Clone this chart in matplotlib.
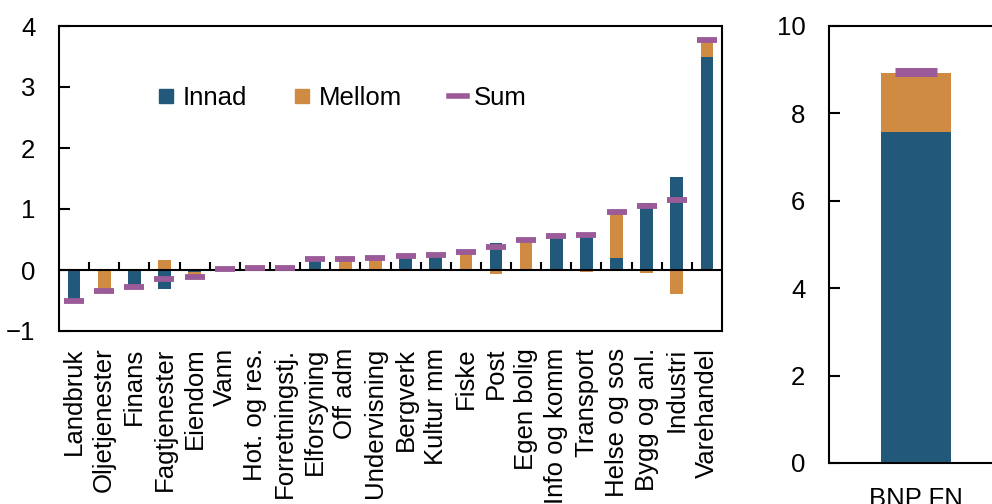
import numpy as np
import matplotlib
matplotlib.use("Agg")
import matplotlib.pyplot as plt
from matplotlib.lines import Line2D

plt.rcParams["font.family"] = ["Liberation Sans", "DejaVu Sans"]
plt.rcParams["font.size"] = 18.5

# data
categories = ["Landbruk", "Oljetjenester", "Finans", "Fagtjenester", "Eiendom",
              "Vann", "Hot. og res.", "Forretningstj.", "Elforsyning", "Off adm",
              "Undervisning", "Bergverk", "Kultur mm", "Fiske", "Post",
              "Egen bolig", "Info og komm", "Transport", "Helse og sos",
              "Bygg og anl.", "Industri", "Varehandel"]
innad = [-0.48, -0.01, -0.24, -0.31, -0.04, 0.00, 0.02, -0.02, 0.16, 0.01, 0.02,
         0.24, 0.23, 0.02, 0.44, 0.01, 0.54, 0.61, 0.19, 1.10, 1.53, 3.49]
mellom = [-0.03, -0.33, -0.04, 0.17, -0.08, 0.01, 0.01, 0.06, 0.02, 0.17, 0.18,
          -0.01, 0.01, 0.27, -0.07, 0.48, 0.01, -0.04, 0.76, -0.05, -0.39, 0.24]
total = [-0.51, -0.34, -0.28, -0.14, -0.12, 0.01, 0.03, 0.04, 0.18, 0.18, 0.20,
         0.23, 0.24, 0.30, 0.37, 0.49, 0.55, 0.57, 0.95, 1.05, 1.14, 3.77]

bnp_label = ["BNP FN"]
bnp_innad = [7.57]
bnp_mellom = [1.36]
bnp_total = [8.94]

c_innad = "#22597A"
c_mellom = "#CF8B41"
c_sum = "#9A5B98"

fig = plt.figure(figsize=(9.92, 5.04), dpi=100)

# left panel: industries
ax = fig.add_axes([59 / 992, 1 - 331 / 504, 663 / 992, 305 / 504])
x = np.arange(len(categories))
inn = np.array(innad)
mel = np.array(mellom)
mel_bottom = np.where(np.sign(mel) == np.sign(inn), inn, 0)

ax.bar(x, inn, width=0.42, color=c_innad, zorder=2)
ax.bar(x, mel, width=0.42, bottom=mel_bottom, color=c_mellom, zorder=2)
ax.plot(x, total, linestyle="none", marker="_", markersize=14.5,
        markeredgewidth=4.2, color=c_sum, zorder=4)

ax.set_xlim(-0.5, len(categories) - 0.5)
ax.set_ylim(-1, 4)
ax.set_yticks(range(-1, 5))
ax.axhline(0, color="black", lw=1.5, zorder=3)
bounds = np.arange(0.5, len(categories) - 0.5)
ax.vlines(bounds, 0, 0.13, color="black", lw=1.5, zorder=3)

ax.set_xticks(x)
ax.set_xticklabels(categories, rotation=90, ha="center", va="top")
ax.tick_params(axis="x", length=0, pad=12)
ax.tick_params(axis="y", direction="in", length=8, width=1.5, pad=17)
for s in ax.spines.values():
    s.set_linewidth(1.5)

handles = [
    Line2D([], [], linestyle="none", marker="s", markersize=10, color=c_innad),
    Line2D([], [], linestyle="none", marker="s", markersize=10, color=c_mellom),
    Line2D([], [], color=c_sum, lw=4),
]
ax.legend(handles, ["Innad", "Mellom", "Sum"], ncol=3, frameon=False,
          loc="center", bbox_to_anchor=(0.427, 0.764), handlelength=0.7,
          handletextpad=0.3, columnspacing=1.8)

# right panel: total
ax2 = fig.add_axes([829 / 992, 1 - 463 / 504, 174 / 992, 437 / 504])
x2 = np.arange(len(bnp_label))
ax2.bar(x2, bnp_innad, width=0.4, color=c_innad, zorder=2)
ax2.bar(x2, bnp_mellom, width=0.4, bottom=bnp_innad, color=c_mellom, zorder=2)
ax2.plot(x2, bnp_total, linestyle="none", marker="_", markersize=30,
         markeredgewidth=6.5, color=c_sum, zorder=4)
ax2.set_xlim(-0.5, 0.5)
ax2.set_ylim(0, 10)
ax2.set_yticks(range(0, 11, 2))
ax2.set_xticks(x2)
ax2.set_xticklabels(bnp_label)
ax2.tick_params(axis="x", length=0, pad=17)
ax2.tick_params(axis="y", direction="in", length=8, width=1.5, pad=17)
for s in ax2.spines.values():
    s.set_linewidth(1.5)

fig.savefig("out.png", dpi=100)
